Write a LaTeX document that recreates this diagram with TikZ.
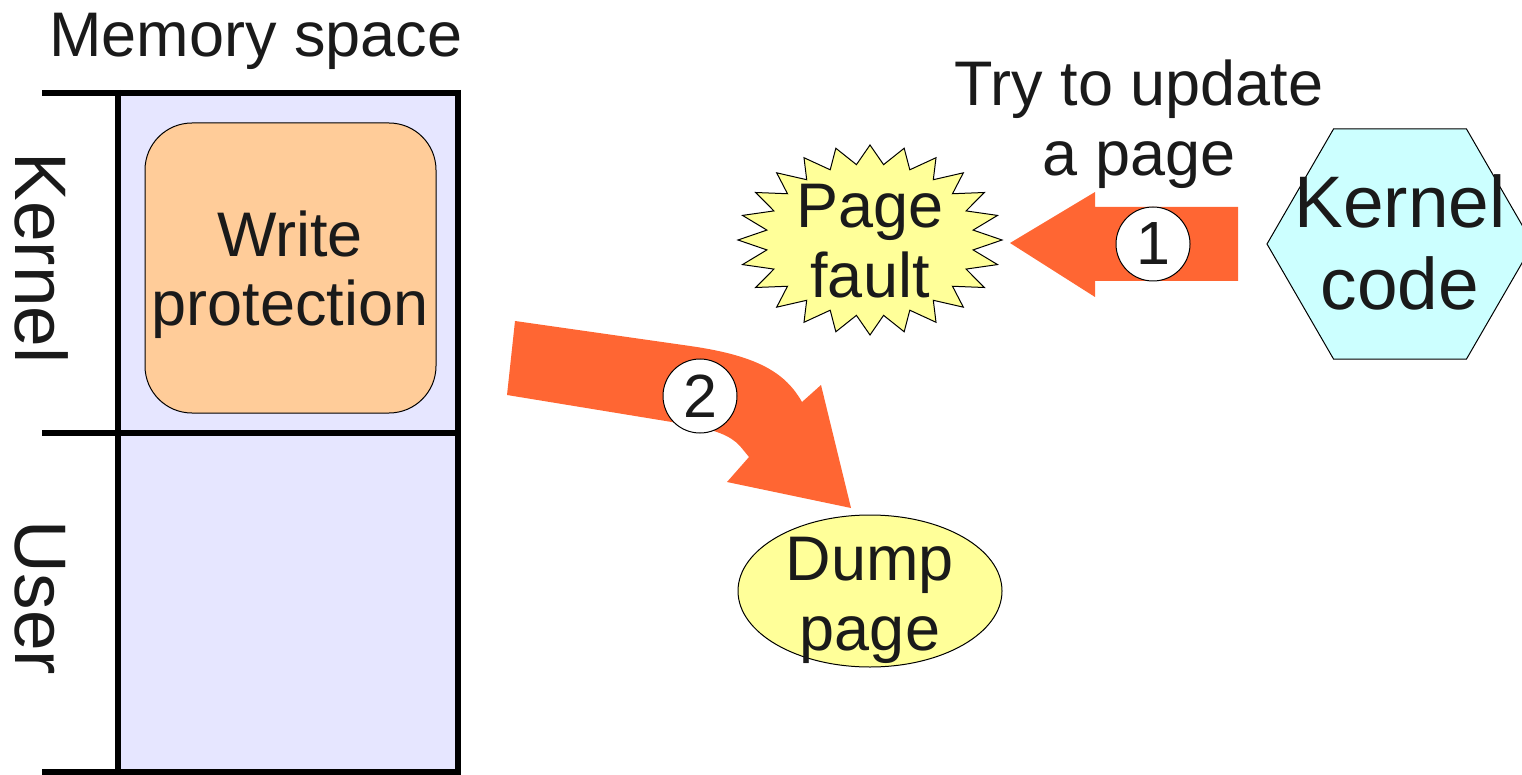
\documentclass[tikz,border=0pt]{standalone}
\usepackage{fontspec}
\setmainfont{Liberation Sans}
\usetikzlibrary{calc}

\definecolor{memfill}{HTML}{E6E6FF}
\definecolor{protfill}{HTML}{FFCC99}
\definecolor{noteyellow}{HTML}{FFFF99}
\definecolor{codecyan}{HTML}{CCFFFF}
\definecolor{flowarrow}{HTML}{FF6633}
\definecolor{ink}{HTML}{1A1A1A}

\tikzset{
  memline/.style={line width=6.5pt, black},
  thinedge/.style={draw=black, line width=1pt},
  bigtext/.style={font=\fontsize{63}{70}\selectfont, text=ink, align=center, inner sep=0pt},
  hugetext/.style={font=\fontsize{73}{82}\selectfont, text=ink, align=center, inner sep=0pt},
  blockarrow/.style={fill=flowarrow, draw=none},
  stepmark/.style={circle, thinedge, fill=white, minimum size=74pt, inner sep=0pt,
                   font=\fontsize{61}{61}\selectfont, text=ink},
}

\begin{document}
\begin{tikzpicture}[x=1pt, y=-1pt]
  \useasboundingbox (0,0) rectangle (1522,775);
  \clip (0,0) rectangle (1522,775);

  % memory column
  \fill[memfill] (118,93) rectangle (458,772);
  \node[bigtext, anchor=base] (memtitle) at (256,57) {Memory space};

  \draw[thinedge, fill=protfill, rounded corners=47pt]
    (145,123) rectangle (436,413);
  \node[bigtext, anchor=base] (wprot) at (290,326) {Write\\protection};

  \draw[memline] (42,93) -- (461,93);
  \draw[memline] (42,433) -- (461,433);
  \draw[memline] (42,772) -- (461,772);
  \draw[memline] (118,90) -- (118,775);
  \draw[memline] (458,90) -- (458,775);

  \node[hugetext, rotate=-90, anchor=base] (kernlbl) at (15,258) {Kernel};
  \node[hugetext, rotate=-90, anchor=base] (userlbl) at (15,598) {User};

  % kernel code hexagon
  \coordinate (hexc) at (1400,244);
  \draw[thinedge, fill=codecyan]
    ($(hexc)+(133,0)$) -- ($(hexc)+(66.5,-115)$) -- ($(hexc)+(-66.5,-115)$)
    -- ($(hexc)+(-133,0)$) -- ($(hexc)+(-66.5,115)$) -- ($(hexc)+(66.5,115)$) -- cycle;
  \node[hugetext, anchor=base] (kcode) at (1400,310) {Kernel\\code};

  % page fault burst
  \coordinate (burstc) at (870,240);
  \draw[thinedge, fill=noteyellow]
    ($(burstc)+(132,0)$)
    \foreach \i in {1,...,47} {
      -- ($(burstc)+({ifthenelse(mod(\i,2)==0,132,104)*cos(\i*7.5)},
                     {ifthenelse(mod(\i,2)==0,95,76)*sin(\i*7.5)})$)
    } -- cycle;
  \node[bigtext, anchor=base] (fault) at (870,298) {Page\\fault};

  % dump page ellipse
  \draw[thinedge, fill=noteyellow] (870,591) ellipse [x radius=132, y radius=76];
  \node[bigtext, anchor=base] (dump) at (870,650) {Dump\\page};

  % caption of step 1
  \node[bigtext, anchor=base] (trylbl) at (1139,176) {Try to update\\a page};

  % step 1: kernel code -> page fault
  \fill[blockarrow]
    (1010,243) -- (1095,192) -- (1095,207) -- (1238,207)
    -- (1238,281) -- (1095,281) -- (1095,297) -- cycle;
  \node[stepmark] (one) at (1153,244) {1};

  % step 2: write protection -> dump page
  \fill[blockarrow]
    (515,321) -- (690,346) .. controls (760,356) and (786,374) .. (802,402)
    -- (821,385) -- (851,508) -- (727,482) -- (749,457) -- (740,446)
    .. controls (730,435) and (714,430) .. (690,425) -- (507,395) -- cycle;
  \node[stepmark] (two) at (700,396) {2};
\end{tikzpicture}
\end{document}
